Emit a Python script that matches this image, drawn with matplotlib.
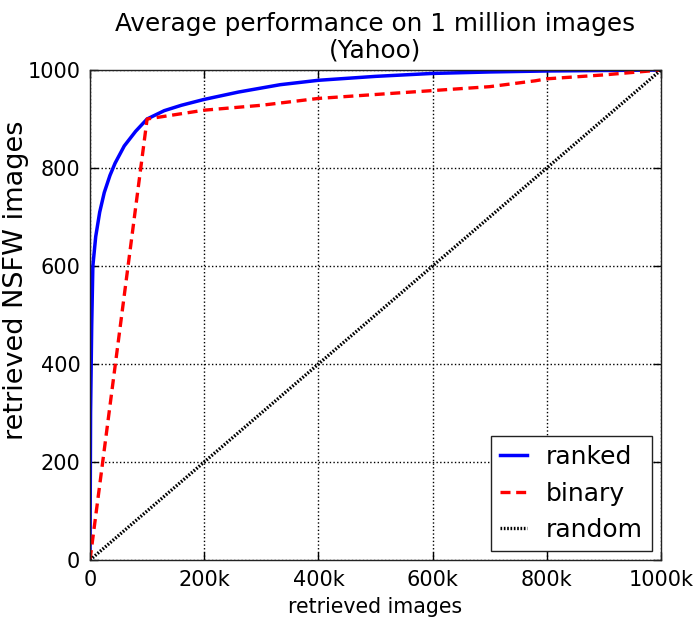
import matplotlib
matplotlib.use("Agg")
import matplotlib.pyplot as plt

# Retrieval curves: number of NSFW images found vs. number of images retrieved
ranked_x = [0, 1000, 3000, 5000, 10000, 17000, 25000, 35000, 44000, 60000, 80000,
            100000, 130000, 160000, 200000, 260000, 333000, 400000, 500000,
            600000, 700000, 800000, 900000, 1000000]
ranked_y = [0, 300, 480, 600, 660, 710, 750, 785, 810, 845, 875,
            900, 917, 928, 940, 955, 970, 979, 987,
            993, 996, 998, 999, 1000]

binary_x = [0, 100000, 200000, 300000, 400000, 500000, 600000, 700000,
            780000, 800000, 900000, 1000000]
binary_y = [0, 900, 918, 928, 942, 950, 958, 966, 978, 982, 990, 1000]

random_x = [0, 200000, 400000, 600000, 800000, 1000000]
random_y = [0, 200, 400, 600, 800, 1000]

xticks = [0, 200000, 400000, 600000, 800000, 1000000]
xtick_labels = ["0", "200k", "400k", "600k", "800k", "1000k"]
yticks = [0, 200, 400, 600, 800, 1000]

fig = plt.figure(figsize=(6.96, 6.21), dpi=100, facecolor="white")
ax = fig.add_axes([90 / 696, 1 - 560 / 621, 571 / 696, 490 / 621])

ax.plot(ranked_x, ranked_y, color="#0000ff", lw=2.5, label="ranked")
ax.plot(binary_x, binary_y, color="#ff0000", lw=2.4, ls=(0, (3.0, 1.7)), label="binary")
ax.plot(random_x, random_y, color="black", lw=2.4, ls=(0, (0.5, 0.5)), label="random")

ax.set_xlim(0, 1000000)
ax.set_ylim(0, 1000)
ax.set_xticks(xticks)
ax.set_xticklabels(xtick_labels)
ax.set_yticks(yticks)
ax.tick_params(direction="in", length=6, width=1, labelsize=15, pad=7,
               top=True, right=True, colors="black")
ax.grid(True, color="black", ls=":", lw=1)
for s in ax.spines.values():
    s.set_linewidth(1)
    s.set_color("#222222")

ax.set_xlabel("retrieved images", fontsize=14.8, labelpad=5)
ax.set_ylabel("retrieved NSFW images", fontsize=19.5)
ax.yaxis.set_label_coords(-0.107, 0.57)
ax.set_title("Average performance on 1 million images\n(Yahoo)", fontsize=17.8,
             linespacing=1.12, pad=9)

leg = ax.legend(loc="lower right", fontsize=18, fancybox=False, framealpha=1,
                edgecolor="#222222", handlelength=1.1, borderpad=0.35,
                labelspacing=0.5, handletextpad=0.75, borderaxespad=0.37)
leg.get_frame().set_linewidth(1)

fig.savefig("out.png", dpi=100, facecolor="white")
